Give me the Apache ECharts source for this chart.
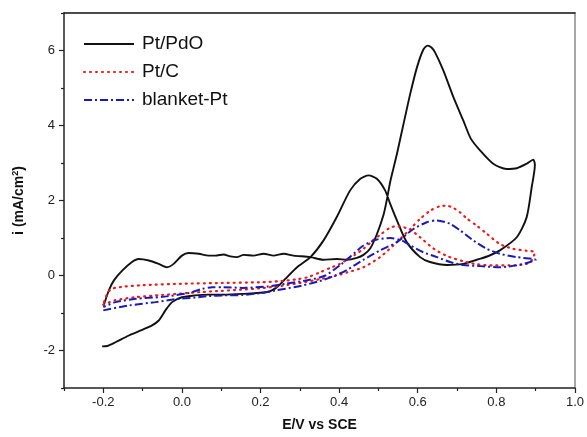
<!DOCTYPE html>
<html>
<head>
<meta charset="utf-8">
<script src="https://cdn.jsdelivr.net/npm/echarts@6/dist/echarts.min.js"></script>
<style>html,body{margin:0;padding:0;background:#fff;}#c{width:587px;height:437px;}</style>
</head>
<body>
<div id="c"></div>
<script>
// Tick labels
var xTickLabels = [-0.2, 0.0, 0.2, 0.4, 0.6, 0.8, 1.0];
var xMinorTicks = [-0.3, -0.1, 0.1, 0.3, 0.5, 0.7, 0.9];
var yTickLabels = [-2, 0, 2, 4, 6];
var yMinorTicks = [-3, -1, 1, 3, 5, 7];
var seriesNames = ['Pt/PdO', 'Pt/C', 'blanket-Pt'];

// Pt/PdO: [E (V), i (mA/cm2)] in scan order
var ptPdO = [
  [-0.199,-0.80],[-0.186,-0.40],[-0.173,-0.13],[-0.152,0.13],[-0.127,0.36],[-0.110,0.44],[-0.084,0.40],
  [-0.059,0.31],[-0.038,0.22],[-0.021,0.31],[0.000,0.53],[0.017,0.60],[0.043,0.58],[0.068,0.53],
  [0.085,0.53],[0.106,0.56],[0.123,0.51],[0.140,0.49],[0.157,0.55],[0.182,0.53],[0.208,0.58],
  [0.233,0.53],[0.259,0.58],[0.284,0.53],[0.327,0.49],[0.360,0.42],[0.394,0.44],[0.420,0.42],
  [0.445,0.47],[0.462,0.55],[0.479,0.72],[0.496,1.10],[0.513,1.62],[0.521,2.00],[0.530,2.50],
  [0.538,2.85],[0.547,3.24],[0.564,4.05],[0.581,4.85],[0.598,5.55],[0.614,6.02],[0.625,6.13],
  [0.635,6.08],[0.644,5.95],[0.665,5.47],[0.691,4.75],[0.716,4.13],[0.735,3.65],[0.759,3.33],
  [0.792,2.98],[0.826,2.84],[0.852,2.86],[0.877,2.98],[0.894,3.09],
  [0.898,2.95],[0.890,2.36],[0.877,1.55],[0.852,1.02],[0.809,0.67],[0.780,0.52],[0.750,0.42],
  [0.716,0.31],[0.674,0.28],[0.631,0.36],[0.606,0.49],[0.572,0.89],[0.547,1.47],[0.530,1.91],
  [0.517,2.27],[0.496,2.58],[0.475,2.67],[0.454,2.58],[0.428,2.27],[0.394,1.56],[0.360,0.93],
  [0.327,0.49],[0.293,0.22],[0.263,-0.09],[0.242,-0.31],[0.217,-0.44],[0.153,-0.49],
  [0.106,-0.51],[0.068,-0.51],[0.034,-0.53],[0.000,-0.58],[-0.025,-0.71],[-0.042,-0.93],
  [-0.059,-1.20],[-0.076,-1.33],[-0.101,-1.45],[-0.135,-1.60],[-0.169,-1.78],[-0.190,-1.88],[-0.203,-1.89]
];

// Pt/C
var ptC = [
  [-0.200,-0.78],[-0.170,-0.66],[-0.120,-0.58],[-0.050,-0.52],[0.000,-0.48],[0.050,-0.44],[0.100,-0.41],
  [0.150,-0.38],[0.200,-0.34],[0.250,-0.28],[0.300,-0.20],[0.350,-0.10],[0.386,-0.02],[0.420,0.08],
  [0.462,0.22],[0.504,0.49],[0.547,0.89],[0.581,1.24],[0.606,1.51],[0.632,1.73],[0.657,1.85],
  [0.674,1.86],[0.691,1.80],[0.708,1.68],[0.725,1.52],[0.750,1.33],[0.776,1.11],[0.809,0.84],
  [0.843,0.71],[0.877,0.66],[0.898,0.62],
  [0.890,0.40],[0.877,0.31],[0.835,0.27],[0.792,0.27],[0.750,0.30],[0.716,0.38],[0.674,0.52],
  [0.640,0.72],[0.606,1.02],[0.581,1.22],[0.560,1.30],[0.545,1.31],[0.530,1.28],[0.504,1.08],
  [0.487,0.95],[0.462,0.71],[0.440,0.55],[0.420,0.42],[0.400,0.30],[0.377,0.20],[0.350,0.08],
  [0.322,-0.04],[0.293,-0.10],[0.250,-0.15],[0.200,-0.18],[0.100,-0.20],[0.000,-0.22],
  [-0.100,-0.26],[-0.150,-0.30],[-0.180,-0.36],[-0.190,-0.49],[-0.200,-0.76]
];

// blanket-Pt
var blanketPt = [
  [-0.200,-0.93],[-0.135,-0.80],[-0.067,-0.71],[-0.017,-0.63],[0.034,-0.59],[0.068,-0.55],[0.106,-0.53],
  [0.153,-0.52],[0.200,-0.47],[0.238,-0.40],[0.305,-0.27],[0.350,-0.15],[0.390,0.00],[0.420,0.15],
  [0.462,0.42],[0.504,0.67],[0.547,0.89],[0.589,1.24],[0.623,1.42],[0.649,1.47],[0.682,1.38],
  [0.708,1.20],[0.742,0.93],[0.776,0.71],[0.809,0.58],[0.852,0.49],[0.894,0.44],[0.900,0.42],
  [0.886,0.36],[0.852,0.27],[0.809,0.22],[0.759,0.25],[0.716,0.28],[0.682,0.36],[0.649,0.49],
  [0.614,0.62],[0.581,0.80],[0.560,0.93],[0.530,1.00],[0.496,0.96],[0.462,0.80],[0.428,0.50],
  [0.405,0.30],[0.365,0.00],[0.322,-0.12],[0.263,-0.22],[0.221,-0.29],[0.153,-0.33],[0.106,-0.31],
  [0.077,-0.31],[0.051,-0.36],[0.017,-0.47],[-0.050,-0.57],[-0.118,-0.62],[-0.169,-0.71],[-0.200,-0.84]
];

var FONT = 'Liberation Sans, Arial, sans-serif';
var chart = echarts.init(document.getElementById('c'), null, {renderer: 'canvas'});

function fmtX(v) { return (Math.round(v * 10) / 10).toFixed(1); }

var option = {
  animation: false,
  backgroundColor: '#fff',
  textStyle: {fontFamily: FONT},
  grid: {left: 64, right: 12, top: 13, bottom: 49, containLabel: false},
  legend: {
    orient: 'vertical', left: 78, top: 29, itemWidth: 50, itemHeight: 14, itemGap: 8,
    data: seriesNames,
    itemStyle: {opacity: 0},
    textStyle: {fontFamily: FONT, fontSize: 19, color: '#111', lineHeight: 20, padding: [0,0,0,3]}
  },
  xAxis: [{
    type: 'value', min: -0.3, max: 1.0, interval: 0.1, position: 'bottom',
    name: 'E/V vs SCE', nameLocation: 'middle', nameGap: 30,
    nameTextStyle: {fontFamily: FONT, fontSize: 14, fontWeight: 'bold', color: '#111'},
    axisLine: {onZero: false, lineStyle: {color: '#222', width: 1.5}},
    axisTick: {show: true, inside: false, length: 5, lineStyle: {color: '#222', width: 1.2}, customValues: xTickLabels},
    axisLabel: {fontFamily: FONT, fontSize: 13, color: '#222', margin: 8, customValues: xTickLabels, formatter: fmtX},
    splitLine: {show: false}
  }, {
    type: 'value', min: -0.3, max: 1.0, interval: 0.1, position: 'bottom',
    axisLine: {show: false, onZero: false},
    axisTick: {show: true, length: 3, lineStyle: {color: '#222', width: 1.2}, customValues: xMinorTicks},
    axisLabel: {show: false}, splitLine: {show: false}
  }, {
    type: 'value', min: -0.3, max: 1.0, interval: 0.1, position: 'top',
    axisLine: {onZero: false, lineStyle: {color: '#111', width: 1.5}},
    axisTick: {show: false}, axisLabel: {show: false}, splitLine: {show: false}
  }],
  yAxis: [{
    type: 'value', min: -3, max: 7, interval: 1, position: 'left',
    name: '{b|i (mA/cm}{s|2}{b|)}', nameLocation: 'middle', nameGap: 36, nameRotate: 90,
    nameTextStyle: {
      rich: {
        b: {fontFamily: FONT, fontSize: 14, fontWeight: 'bold', color: '#111'},
        s: {fontFamily: FONT, fontSize: 9, fontWeight: 'bold', color: '#111', padding: [0,0,8,0]}
      }
    },
    axisLine: {onZero: false, lineStyle: {color: '#222', width: 1.5}},
    axisTick: {show: true, length: 5, lineStyle: {color: '#222', width: 1.2}, customValues: yTickLabels},
    axisLabel: {fontFamily: FONT, fontSize: 13, color: '#222', margin: 9, customValues: yTickLabels},
    splitLine: {show: false}
  }, {
    type: 'value', min: -3, max: 7, interval: 1, position: 'left',
    axisLine: {show: false, onZero: false},
    axisTick: {show: true, length: 3, lineStyle: {color: '#222', width: 1.2}, customValues: yMinorTicks},
    axisLabel: {show: false}, splitLine: {show: false}
  }, {
    type: 'value', min: -3, max: 7, interval: 1, position: 'right',
    axisLine: {onZero: false, lineStyle: {color: '#8a8a8a', width: 1.5}},
    axisTick: {show: false}, axisLabel: {show: false}, splitLine: {show: false}
  }],
  series: [{
    name: seriesNames[0], type: 'line', data: ptPdO, symbol: 'none', showSymbol: false, smooth: 0.25,
    xAxisIndex: 0, yAxisIndex: 0,
    lineStyle: {color: '#111', width: 1.9, type: 'solid'}, itemStyle: {color: '#111'}
  }, {
    name: seriesNames[1], type: 'line', data: ptC, symbol: 'none', showSymbol: false, smooth: 0.25,
    xAxisIndex: 0, yAxisIndex: 0,
    lineStyle: {color: '#f01818', width: 2.2, type: [1, 5], cap: 'round'}, itemStyle: {color: '#f01818'}
  }, {
    name: seriesNames[2], type: 'line', data: blanketPt, symbol: 'none', showSymbol: false, smooth: 0.25,
    xAxisIndex: 0, yAxisIndex: 0,
    lineStyle: {color: '#1a1ab8', width: 2, type: [8, 3, 2, 3]}, itemStyle: {color: '#1a1ab8'}
  }]
};
chart.setOption(option);
</script>
</body>
</html>
